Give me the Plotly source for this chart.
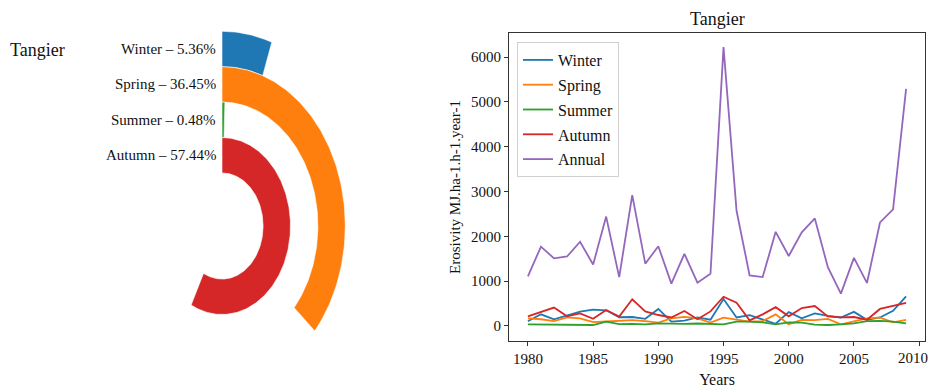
import numpy as np
import plotly.graph_objects as go

# ---- data ----
years = list(range(1980, 2010))
winter = [105, 260, 150, 235, 320, 365, 350, 195, 200, 160, 380, 96, 120, 190, 140,
          600, 190, 240, 150, 50, 310, 170, 280, 225, 190, 315, 140, 190, 340, 660]
spring = [170, 150, 110, 190, 170, 85, 100, 120, 130, 110, 75, 170, 205, 170, 75,
          185, 135, 97, 110, 260, 40, 135, 130, 160, 37, 97, 170, 185, 80, 135]
summer = [35, 30, 25, 22, 20, 22, 95, 40, 45, 35, 60, 50, 45, 55, 40,
          37, 97, 97, 80, 37, 80, 74, 30, 22, 37, 60, 110, 112, 97, 60]
autumn = [215, 310, 410, 215, 280, 160, 355, 208, 597, 325, 245, 190, 333, 149, 325,
          652, 520, 125, 260, 420, 215, 400, 445, 215, 190, 200, 140, 380, 440, 515]
annual = [1107, 1770, 1510, 1550, 1880, 1370, 2440, 1090, 2920, 1390, 1780, 945, 1610, 967, 1166,
          6220, 2570, 1130, 1090, 2100, 1560, 2090, 2400, 1310, 723, 1520, 960, 2310, 2600, 5290]

season_names = ["Winter", "Spring", "Summer", "Autumn"]
season_share = [5.36, 36.45, 0.48, 57.44]   # percent of annual erosivity
station = "Tangier"
year_ticks = [1980, 1985, 1990, 1995, 2000, 2005, 2010]

colors = {"Winter": "#1f77b4", "Spring": "#ff7f0e", "Summer": "#2ca02c",
          "Autumn": "#d62728", "Annual": "#9467bd"}
FONT = "Liberation Serif, Times New Roman, serif"

W, H = 931, 388
fig = go.Figure()

# ---- radial bar panel (left) ----
# rings stacked outward: last season innermost; each ring one unit thick
n = len(season_names)
for i, (name, pct) in enumerate(zip(season_names, season_share)):
    r_in = 1.5 + (n - 1 - i)
    r_out = r_in + 1.0
    sweep = np.radians(pct * 3.6)
    t = np.linspace(0.0, sweep, max(4, int(pct * 4)))
    xs = np.concatenate([r_out * np.sin(t), r_in * np.sin(t[::-1])])
    ys = np.concatenate([r_out * np.cos(t), r_in * np.cos(t[::-1])])
    fig.add_trace(go.Scatter(
        x=np.append(xs, xs[0]), y=np.append(ys, ys[0]), mode="lines",
        fill="toself", fillcolor=colors[name],
        line=dict(color="white", width=0.6),
        xaxis="x", yaxis="y", showlegend=False, hoverinfo="skip"))
    fig.add_annotation(
        x=-0.15, y=(r_in + r_out) / 2, xref="x", yref="y",
        text=f"{name} – {pct:.2f}%", showarrow=False,
        xanchor="right", yanchor="middle",
        font=dict(family=FONT, size=15, color="#111"))

fig.add_annotation(x=8 / W, y=1 - 50 / H, xref="paper", yref="paper",
                   text=station, showarrow=False, xanchor="left", yanchor="middle",
                   font=dict(family=FONT, size=18, color="#111"))

# ---- time series panel (right) ----
series = [("Winter", winter), ("Spring", spring), ("Summer", summer),
          ("Autumn", autumn), ("Annual", annual)]
for name, vals in series:
    fig.add_trace(go.Scatter(
        x=years, y=vals, mode="lines", name=name, legendgroup=name,
        line=dict(color=colors[name], width=1.8),
        xaxis="x2", yaxis="y2"))

# left panel geometry: centre at (222, 226) px, 35.4 px/unit vertical, 27.4 px/unit horizontal
cx, cy, sy, sx = 222, 226, 35.4, 27.4
left_w = 420
fig.update_layout(
    width=W, height=H,
    margin=dict(l=0, r=0, t=0, b=0),
    paper_bgcolor="white", plot_bgcolor="white",
    font=dict(family=FONT, size=14, color="#111"),
    xaxis=dict(domain=[0, left_w / W], range=[-cx / sx, (left_w - cx) / sx],
               visible=False, fixedrange=True),
    yaxis=dict(domain=[0, 1], range=[-(H - cy) / sy, cy / sy],
               visible=False, fixedrange=True),
    xaxis2=dict(domain=[509 / W, 925 / W], anchor="y2",
                range=[1978.55, 2010.45], tickmode="array",
                tickvals=year_ticks, ticktext=[str(y) for y in year_ticks[:-1]] + [""],
                showgrid=False, zeroline=False,
                showline=True, mirror=True, linecolor="#333", linewidth=1,
                ticks="outside", ticklen=4, tickcolor="#333",
                tickfont=dict(family=FONT, size=15, color="#111"),
                title=dict(text="Years", font=dict(family=FONT, size=16, color="#111"),
                           standoff=10)),
    yaxis2=dict(domain=[1 - 341 / H, 1 - 33 / H], anchor="x2",
                range=[-335, 6536], tick0=0, dtick=1000,
                showgrid=False, zeroline=False,
                showline=True, mirror=True, linecolor="#333", linewidth=1,
                ticks="outside", ticklen=4, tickcolor="#333",
                tickfont=dict(family=FONT, size=15, color="#111"),
                title=dict(text="Erosivity MJ.ha-1.h-1.year-1",
                           font=dict(family=FONT, size=15, color="#111"),
                           standoff=6)),
    legend=dict(x=517 / W, y=1 - 42 / H, xanchor="left", yanchor="top",
                bgcolor="white", bordercolor="#d0d0d0", borderwidth=1,
                font=dict(family=FONT, size=16, color="#111"),
                tracegroupgap=1, itemwidth=30),
    showlegend=True,
)

# last year tick label sits at the page edge; keep it inside the page
fig.add_annotation(x=1.0, y=1 - 358 / H, xref="paper", yref="paper",
                   text=str(year_ticks[-1]), showarrow=False,
                   xanchor="right", yanchor="middle", xshift=-1,
                   font=dict(family=FONT, size=15, color="#111"))

fig.add_annotation(x=(509 + 925) / 2 / W, y=1 - 19 / H, xref="paper", yref="paper",
                   text=station, showarrow=False, xanchor="center", yanchor="middle",
                   font=dict(family=FONT, size=18, color="#111"))

fig.write_html("out.html")
